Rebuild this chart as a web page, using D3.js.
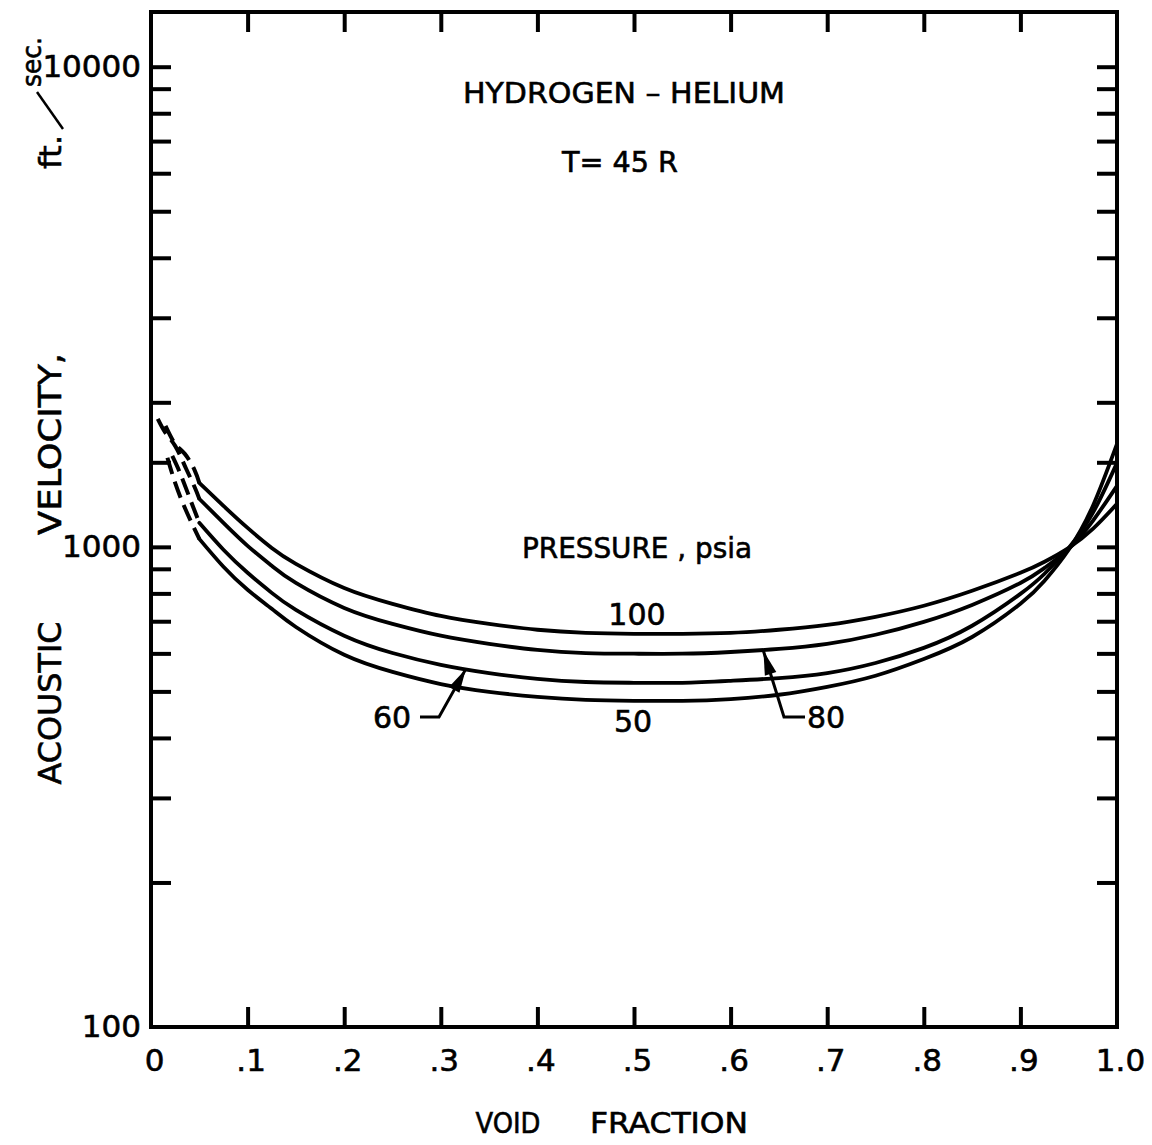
<!DOCTYPE html>
<html><head><meta charset="utf-8">
<script src="https://cdn.jsdelivr.net/npm/d3@7"></script>
<style>
html,body{margin:0;padding:0;background:#fff;}
svg{display:block;}
text{font-family:"DejaVu Sans",sans-serif;fill:#000;stroke:#000;stroke-width:0.6px;}
</style></head><body>
<svg id="chart" width="1152" height="1145"></svg>
<script>
// ---------- data ----------
const voidFraction = [0.05,0.075,0.1,0.125,0.15,0.2,0.25,0.3,0.35,0.4,0.45,0.5,0.55,0.6,0.65,0.7,0.75,0.8,0.85,0.9,0.925,0.95,0.975,1.0];
const vel100 = [1359,1217,1095,995,922,821,761,718,691,672,662,659,659,662,672,688,715,754,810,883,931,995,1090,1229];
const vel80  = [1259,1122,1005,913,841,746,691,653,628,610,601,599,599,604,613,628,656,698,757,841,904,990,1133,1340];
const vel60  = [1122,986,883,802,739,653,601,568,546,531,523,521,521,526,533,546,573,616,685,798,879,995,1177,1496];
const vel50  = [1039,909,814,743,681,596,549,518,499,487,480,478,478,482,492,511,539,584,649,761,850,986,1217,1639];
// dashed (extrapolated) low-void-fraction parts
const dashX100 = [0.015,0.025,0.035,0.045,0.05];
const dashV100 = [1787,1639,1562,1447,1359];
const dashX80  = [0.007,0.015,0.025,0.035,0.045,0.05];
const dashV80  = [1848,1728,1623,1475,1334,1259];
const dashX60  = [0.022,0.03,0.04,0.05];
const dashV60  = [1547,1426,1265,1122];
const dashX50  = [0.017,0.025,0.035,0.045,0.05];
const dashV50  = [1533,1359,1206,1090,1039];

const xTickValues = [0,0.1,0.2,0.3,0.4,0.5,0.6,0.7,0.8,0.9,1.0];
const xTickLabels = ["0",".1",".2",".3",".4",".5",".6",".7",".8",".9","1.0"];
const yTickValues = [200,300,400,500,600,700,800,900,1000,1500,2000,3000,4000,5000,6000,7000,8000,9000,10000];
const yLabelled = [100,1000,10000];
const yLabels = ["100","1000","10000"];

// ---------- layout ----------
const svg = d3.select("#chart");
const x = d3.scaleLinear().domain([0,1]).range([151,1117]);
const y = d3.scaleLog().domain([100,13000]).range([1027,12]);
const TICK = 20, SW = 4;

const gL = svg.append("g").attr("transform",`translate(${x(0)},0)`)
  .call(d3.axisLeft(y).tickValues(yTickValues).tickSizeInner(-TICK).tickSizeOuter(0).tickFormat(""));
const gR = svg.append("g").attr("transform",`translate(${x(1)},0)`)
  .call(d3.axisRight(y).tickValues(yTickValues).tickSizeInner(-TICK).tickSizeOuter(0).tickFormat(""));
const gT = svg.append("g").attr("transform",`translate(0,${y.range()[1]})`)
  .call(d3.axisTop(x).tickValues(xTickValues.slice(1,-1)).tickSizeInner(-TICK).tickSizeOuter(0).tickFormat(""));
const gB = svg.append("g").attr("transform",`translate(0,${y.range()[0]})`)
  .call(d3.axisBottom(x).tickValues(xTickValues.slice(1,-1)).tickSizeInner(-TICK).tickSizeOuter(0).tickFormat(""));
[gL,gR,gT,gB].forEach(g=>{
  g.select(".domain").remove();
  g.selectAll(".tick line").attr("stroke","#000").attr("stroke-width",SW);
});

const gBL = svg.append("g").attr("transform",`translate(0,${y.range()[0]})`)
  .call(d3.axisBottom(x).tickValues(xTickValues).tickSize(0).tickPadding(22)
        .tickFormat((d,i)=>xTickLabels[i]));
gBL.select(".domain").remove();
gBL.selectAll("text").attr("font-size",31).attr("font-family","DejaVu Sans").attr("dx",3);

const gLL = svg.append("g").attr("transform",`translate(${x(0)},0)`)
  .call(d3.axisLeft(y).tickValues(yLabelled).tickSize(0).tickPadding(10)
        .tickFormat((d,i)=>yLabels[i]));
gLL.select(".domain").remove();
gLL.selectAll("text").attr("font-size",31).attr("font-family","DejaVu Sans");

svg.append("rect").attr("x",x(0)).attr("y",y.range()[1])
  .attr("width",x(1)-x(0)).attr("height",y.range()[0]-y.range()[1])
  .attr("fill","none").attr("stroke","#000").attr("stroke-width",SW);

// curves
const line = d3.line().x(d=>x(d[0])).y(d=>y(d[1])).curve(d3.curveNatural);
const solid = [vel100,vel80,vel60,vel50];
const dashX = [dashX100,dashX80,dashX60,dashX50];
const dashV = [dashV100,dashV80,dashV60,dashV50];
solid.forEach((vals,i)=>{
  svg.append("path").datum(voidFraction.map((f,j)=>[f,vals[j]]))
    .attr("d",line).attr("fill","none").attr("stroke","#000").attr("stroke-width",3.8)
    .attr("stroke-linecap","round");
  svg.append("path").datum(dashX[i].map((f,j)=>[f,dashV[i][j]]))
    .attr("d",line).attr("fill","none").attr("stroke","#000").attr("stroke-width",4)
    .attr("stroke-dasharray","17,8");
});

// annotations
function txt(s,cx,base,size,w){
  const t = svg.append("text").attr("x",cx).attr("y",base).attr("font-size",size)
    .attr("text-anchor","middle").text(s);
  if(w) t.attr("textLength",w).attr("lengthAdjust","spacingAndGlyphs");
  return t;
}
txt("HYDROGEN – HELIUM",624,103,28,322);
txt("T= 45 R",620,172,28,116);
txt("PRESSURE , psia",637,558,28,230);
txt("100",637,625,30);
txt("50",633,732,30);
txt("60",392,728,30);
txt("80",826,728,30);
txt("VOID",508,1133,28,65);
txt("FRACTION",669,1133,28,158);

function arrow(pts){
  svg.append("polyline").attr("points",pts.map(p=>p.join(",")).join(" "))
    .attr("fill","none").attr("stroke","#000").attr("stroke-width",3);
  const a = pts[pts.length-2], b = pts[pts.length-1];
  const dx=b[0]-a[0], dy=b[1]-a[1], L=Math.hypot(dx,dy), ux=dx/L, uy=dy/L;
  const hl=24, hw=6;
  const bx=b[0]-ux*hl, by=b[1]-uy*hl;
  svg.append("path").attr("d",`M${b[0]},${b[1]}L${bx-uy*hw},${by+ux*hw}L${bx+uy*hw},${by-ux*hw}Z`)
    .attr("fill","#000");
}
const tip60 = [x(0.326), y(557)];
const tip80 = [x(0.634), y(607)];
arrow([[420,717],[439,717],tip60]);
arrow([[805,717],[784,717],tip80]);

// y-axis title
function rtxt(s,bx,cy,size,w){
  const t = svg.append("text").attr("transform",`translate(${bx},${cy}) rotate(-90)`)
    .attr("font-size",size).attr("text-anchor","middle").text(s);
  if(w) t.attr("textLength",w).attr("lengthAdjust","spacingAndGlyphs");
}
rtxt("ACOUSTIC",61,703,32,163);
rtxt("VELOCITY,",61,444,32,182);
rtxt("ft.",61,152,30,34);
rtxt("sec.",41,62,26,50);
svg.append("line").attr("x1",63).attr("y1",129).attr("x2",37).attr("y2",92)
  .attr("stroke","#000").attr("stroke-width",2.5);
</script>
</body></html>
